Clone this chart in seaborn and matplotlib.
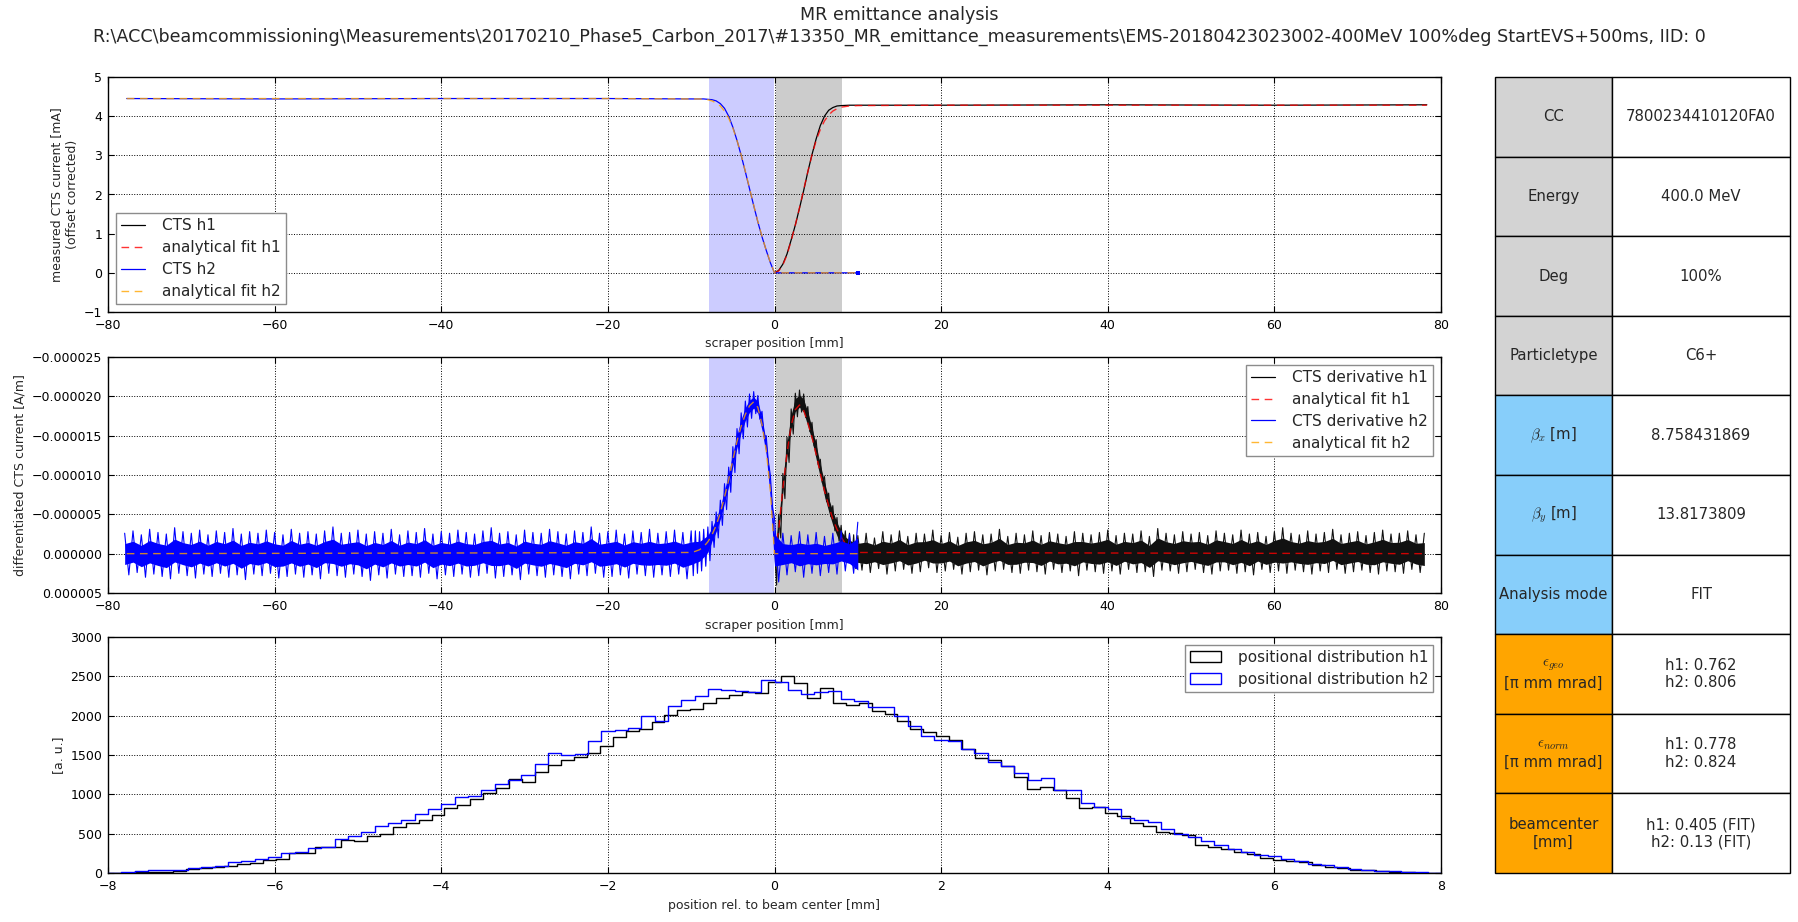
import numpy as np
import pandas as pd
import matplotlib
matplotlib.use("Agg")
import matplotlib.pyplot as plt
import seaborn as sns
from matplotlib.lines import Line2D
from matplotlib.patches import Patch
from matplotlib.ticker import FuncFormatter, MultipleLocator

# ---------------------------------------------------------------- data
# measured / fitted CTS current [mA] against scraper position [mm]
h1_cts_x = [0, 0.5, 1, 1.5, 2, 2.5, 3, 3.5, 4, 4.5, 5, 5.5, 6, 6.5, 7, 7.5, 8,
            9, 10, 20, 40, 60, 78.3]
h1_cts_y = [0.0, 0.06, 0.22, 0.48, 0.84, 1.22, 1.65, 2.10, 2.58, 3.02, 3.42, 3.76,
            4.00, 4.15, 4.22, 4.26, 4.27, 4.28, 4.28, 4.28, 4.29, 4.28, 4.29]
h1_fit_y = [0.0, 0.05, 0.20, 0.46, 0.82, 1.22, 1.66, 2.12, 2.58, 3.01, 3.38, 3.66,
            3.88, 4.03, 4.13, 4.19, 4.23, 4.26, 4.27, 4.28, 4.28, 4.28, 4.28]

h2_cts_x = [-77.75, -60, -40, -20, -10, -9, -8.5, -8, -7.5, -7, -6.5, -6, -5.5,
            -5, -4.5, -4, -3.5, -3, -2.5, -2, -1.5, -1, -0.5, 0, 5, 10]
h2_cts_y = [4.45, 4.44, 4.45, 4.45, 4.44, 4.44, 4.44, 4.43, 4.42, 4.39, 4.32, 4.20,
            4.00, 3.72, 3.38, 3.00, 2.58, 2.15, 1.72, 1.30, 0.92, 0.58, 0.26, 0.0,
            0.0, 0.0]
h2_fit_y = [4.45, 4.45, 4.45, 4.45, 4.44, 4.44, 4.43, 4.42, 4.39, 4.34, 4.26, 4.13,
            3.95, 3.70, 3.38, 3.01, 2.59, 2.16, 1.73, 1.31, 0.93, 0.58, 0.27, 0.0,
            0.0, 0.0]

# differentiated CTS current, in units of 1e-6 A/m
h1_dfit_x = [0, 0.5, 1, 1.5, 2, 2.5, 3, 3.5, 4, 4.5, 5, 5.5, 6, 6.5, 7, 7.5, 8,
             8.5, 9, 9.5, 10, 78.3]
h1_dfit_y = [0, -3.0, -8.3, -12.8, -16.3, -18.3, -18.9, -18.2, -16.6, -14.8, -12.6,
             -10.2, -8.0, -6.1, -4.4, -3.1, -2.1, -1.3, -0.8, -0.4, -0.15, 0.0]

h2_dfit_x = [-77.75, -10, -9.5, -9, -8.5, -8, -7.5, -7, -6.5, -6, -5.5, -5, -4.5,
             -4, -3.5, -3, -2.5, -2, -1.5, -1, -0.5, 0, 10]
h2_dfit_y = [0, -0.15, -0.3, -0.5, -0.9, -1.5, -2.4, -3.6, -5.2, -7.2, -9.4, -11.9,
             -14.3, -16.2, -17.7, -18.8, -19.3, -18.6, -16.4, -13.2, -8.0, 0, 0]

# measured derivative h1: lower / upper extent of the noisy trace
h1_dpeak_x = [0, 0.5, 1, 1.5, 2, 2.5, 3, 3.5, 4, 4.5, 5, 5.5, 6, 6.5, 7, 7.5, 8,
              8.5, 9, 9.5]
h1_dpeak_lo = [-1.5, -5.0, -10.2, -14.8, -18.4, -20.4, -20.8, -20.3, -18.7, -16.7,
               -14.5, -12.0, -9.8, -7.7, -6.1, -4.6, -3.6, -2.9, -2.6, -2.4]
h1_dpeak_hi = [4.0, -2.0, -7.0, -11.6, -15.2, -17.4, -18.0, -17.3, -15.5, -13.7,
               -11.3, -9.0, -6.6, -4.7, -2.9, -1.6, -0.4, 0.5, 1.3, 1.9]
h1_dnoise_x = list(range(10, 79))
h1_dnoise_lo = [-2.3, -2.6, -2.0, -2.8, -2.4, -2.9, -2.2, -2.6, -2.5, -3.0,
                -2.3, -2.7, -2.1, -2.6, -2.8, -2.4, -2.5, -3.1, -2.2, -2.6,
                -2.4, -2.9, -2.3, -2.7, -2.5, -2.2, -2.8, -2.6, -2.4, -2.7,
                -3.0, -2.3, -2.6, -2.5, -2.9, -2.2, -3.2, -2.6, -2.4, -2.8,
                -2.5, -2.7, -2.3, -2.9, -2.6, -2.4, -3.0, -2.5, -2.7, -2.2,
                -2.8, -3.3, -2.6, -2.4, -2.9, -2.5, -2.7, -3.1, -2.4, -2.6,
                -2.8, -2.3, -2.7, -3.0, -2.5, -2.6, -2.9, -2.4, -2.6]
h1_dnoise_hi = [2.1, 2.4, 1.9, 2.6, 2.2, 2.0, 2.5, 2.3, 1.8, 2.4,
                2.2, 2.0, 2.6, 2.3, 2.1, 2.7, 2.2, 2.0, 2.4, 2.5,
                2.1, 2.3, 2.6, 2.0, 2.4, 2.2, 2.8, 2.1, 2.3, 2.5,
                2.2, 2.6, 2.0, 2.4, 2.3, 2.9, 2.1, 2.2, 2.5, 2.3,
                2.0, 2.4, 2.6, 2.2, 2.1, 2.5, 2.3, 2.7, 2.0, 2.4,
                2.2, 2.5, 2.1, 2.3, 2.6, 2.2, 2.4, 2.0, 2.5, 2.3,
                2.1, 2.4, 2.6, 2.2, 2.3, 2.5, 2.0, 2.4, 2.7]

# measured derivative h2: lower / upper extent of the noisy trace
h2_dnoise_x = list(range(-78, -9))
h2_dnoise_lo = [-2.6, -2.9, -2.4, -3.1, -2.7, -2.5, -3.3, -2.8, -2.6, -3.0,
                -2.4, -2.9, -2.7, -3.2, -2.5, -2.8, -2.6, -3.0, -2.7, -2.4,
                -3.1, -2.6, -2.8, -2.5, -2.9, -3.4, -2.6, -2.7, -3.0, -2.5,
                -2.8, -2.6, -3.1, -2.4, -2.9, -2.7, -3.2, -2.5, -2.8, -2.6,
                -3.0, -2.7, -2.5, -2.9, -3.3, -2.6, -2.8, -2.4, -3.0, -2.7,
                -2.6, -3.1, -2.8, -2.5, -2.9, -2.7, -3.4, -2.6, -2.8, -3.0,
                -2.5, -2.9, -2.7, -3.1, -2.6, -2.8, -3.0, -2.7, -2.9]
h2_dnoise_hi = [2.7, 2.4, 3.0, 2.6, 2.9, 3.2, 2.5, 2.8, 3.1, 2.6,
                2.9, 2.5, 3.0, 2.7, 3.3, 2.6, 2.8, 2.5, 3.1, 2.9,
                2.6, 3.0, 2.7, 3.2, 2.5, 2.8, 3.0, 2.6, 2.9, 3.4,
                2.7, 3.1, 2.6, 2.9, 2.8, 3.0, 2.5, 3.2, 2.7, 2.9,
                2.6, 3.0, 2.8, 2.5, 3.1, 2.9, 2.7, 3.3, 2.6, 2.8,
                3.0, 2.7, 2.9, 3.2, 2.6, 2.8, 2.5, 3.0, 2.9, 2.7,
                3.1, 2.6, 2.8, 3.0, 2.7, 2.9, 2.6, 3.2, 2.8]
h2_dpeak_x = [-9.5, -9, -8.5, -8, -7.5, -7, -6.5, -6, -5.5, -5, -4.5, -4, -3.5,
              -3, -2.5, -2, -1.5, -1, -0.5]
h2_dpeak_lo = [-2.9, -2.8, -3.1, -3.4, -4.1, -5.3, -6.8, -8.9, -11.0, -13.6, -15.9,
               -17.9, -19.4, -20.3, -20.6, -20.1, -18.1, -15.0, -10.0]
h2_dpeak_hi = [2.5, 2.2, 1.6, 0.9, -0.8, -2.0, -3.6, -5.6, -7.8, -10.3, -12.7,
               -14.6, -16.1, -17.2, -17.8, -17.1, -14.9, -11.8, -6.0]
h2_dtail_x = [0, 1, 2, 3, 4, 5, 6, 7, 8, 9, 10]
h2_dtail_lo = [-4.5, -2.6, -2.3, -2.8, -2.4, -2.7, -2.2, -2.6, -2.9, -2.5, -4.0]
h2_dtail_hi = [3.6, 2.7, 2.3, 3.0, 2.5, 2.8, 2.4, 2.6, 2.2, 2.5, 4.1]

# positional distributions [a. u.]
h1_counts = [2, 4, 8, 13, 14, 21, 55, 68, 76, 90,
             110, 130, 165, 175, 260, 250, 330, 330, 420, 412,
             470, 500, 580, 632, 670, 735, 823, 865, 946, 1014,
             1086, 1196, 1163, 1285, 1370, 1440, 1470, 1525, 1610, 1735,
             1805, 1835, 1920, 2005, 2070, 2090, 2155, 2230, 2260, 2305,
             2285, 2425, 2500, 2415, 2225, 2350, 2160, 2135, 2165, 2065,
             2020, 1935, 1825, 1790, 1740, 1690, 1575, 1465, 1435, 1360,
             1220, 1070, 1095, 1060, 950, 827, 835, 768, 725, 632,
             598, 522, 513, 480, 356, 327, 305, 263, 242, 195,
             165, 153, 140, 98, 72, 59, 42, 34, 25, 17,
             13, 6, 2]
h2_counts = [3, 10, 22, 38, 35, 38, 58, 75, 95, 135,
             150, 178, 200, 250, 270, 320, 325, 430, 470, 525,
             600, 630, 680, 745, 810, 880, 960, 980, 1055, 1135,
             1185, 1240, 1390, 1520, 1500, 1515, 1675, 1810, 1820, 1840,
             2000, 1930, 2125, 2200, 2255, 2345, 2330, 2310, 2305, 2455,
             2425, 2325, 2280, 2305, 2310, 2210, 2190, 2115, 2110, 2000,
             1870, 1745, 1695, 1680, 1575, 1530, 1410, 1360, 1275, 1185,
             1210, 1055, 1050, 895, 845, 810, 705, 675, 650, 560,
             495, 455, 410, 350, 305, 270, 225, 210, 175, 150,
             115, 98, 72, 55, 42, 30, 20, 17, 10, 5]

# scraper regions used for the fits [mm]
h2_region = [-7.9, -0.06]
h1_region = [0.24, 8.08]

# parameter table
table_keys = ["CC", "Energy", "Deg", "Particletype", r"$\beta_x$ [m]",
              r"$\beta_y$ [m]", "Analysis mode",
              "$\\epsilon_{geo}$\n[\u03c0 mm mrad]",
              "$\\epsilon_{norm}$\n[\u03c0 mm mrad]", "beamcenter\n[mm]"]
table_values = ["7800234410120FA0", "400.0 MeV", "100%", "C6+", "8.758431869",
                "13.8173809", "FIT", "h1: 0.762\nh2: 0.806",
                "h1: 0.778\nh2: 0.824", "h1: 0.405 (FIT)\nh2: 0.13 (FIT)"]
table_key_colors = ["lightgray"] * 4 + ["lightskyblue"] * 3 + ["orange"] * 3

title = ("MR emittance analysis\n"
         r"R:\ACC\beamcommissioning\Measurements\20170210_Phase5_Carbon_2017"
         r"\#13350_MR_emittance_measurements\EMS-20180423023002-400MeV 100%deg "
         "StartEVS+500ms, IID: 0")

# ---------------------------------------------------------------- style
sns.set_style("white")
plt.rcParams.update({
    "font.family": ["DejaVu Sans"],
    "font.size": 9,
    "axes.edgecolor": "black",
    "axes.linewidth": 1.0,
    "axes.grid": True,
    "grid.color": "black",
    "grid.linestyle": ":",
    "grid.linewidth": 0.7,
    "xtick.direction": "in",
    "ytick.direction": "in",
    "xtick.top": True,
    "ytick.right": True,
    "xtick.bottom": True,
    "ytick.left": True,
    "xtick.major.size": 4,
    "ytick.major.size": 4,
    "xtick.major.pad": 5,
    "ytick.major.pad": 4,
    "xtick.labelsize": 9,
    "ytick.labelsize": 9,
    "axes.labelsize": 9,
    "xtick.color": "black",
    "ytick.color": "black",
    "mathtext.fontset": "cm",
    "axes.unicode_minus": True,
    "legend.fontsize": 11,
})

DASH = (0, (5.5, 4.0))
MINUS = "\u2212"


def minus_fmt(fmt):
    def f(v, pos):
        if abs(v) < 1e-12:
            v = 0.0
        return (fmt % v).replace("-", MINUS)
    return FuncFormatter(f)


fig = plt.figure(figsize=(17.98, 9.22), dpi=100)
W, H = 1798.0, 922.0


def px_axes(x0, y0, x1, y1):
    return fig.add_axes([x0 / W, 1 - y1 / H, (x1 - x0) / W, (y1 - y0) / H])


ax1 = px_axes(108, 77, 1441, 312)
ax2 = px_axes(108, 357, 1441, 593)
ax3 = px_axes(108, 637, 1441, 873)
axt = px_axes(1495, 77, 1790, 873)

# ---------------------------------------------------------------- top panel
for ax in (ax1, ax2):
    ax.axvspan(*h2_region, color="blue", alpha=0.2, lw=0, zorder=0)
    ax.axvspan(*h1_region, color="black", alpha=0.2, lw=0, zorder=0)

sns.lineplot(x=h1_cts_x, y=h1_cts_y, color="black", lw=0.9, ax=ax1, zorder=3)
sns.lineplot(x=h1_cts_x, y=h1_fit_y, color="red", lw=1.0, alpha=0.8,
             linestyle=DASH, ax=ax1, zorder=4)
sns.lineplot(x=h2_cts_x, y=h2_cts_y, color="blue", lw=0.9, ax=ax1, zorder=5,
             marker="s", markersize=2.5, markeredgewidth=0,
             markevery=[len(h2_cts_x) - 1])
sns.lineplot(x=h2_cts_x, y=h2_fit_y, color="orange", lw=1.0, alpha=0.8,
             linestyle=DASH, ax=ax1, zorder=6)

ax1.set_xlim(-80, 80)
ax1.set_ylim(-1, 5)
ax1.xaxis.set_major_locator(MultipleLocator(20))
ax1.yaxis.set_major_locator(MultipleLocator(1))
ax1.xaxis.set_major_formatter(minus_fmt("%d"))
ax1.yaxis.set_major_formatter(minus_fmt("%d"))
ax1.set_xlabel("scraper position [mm]")
ax1.set_ylabel("measured CTS current [mA]\n(offset corrected)")


def line_handles(labels):
    return [Line2D([], [], color="black", lw=0.9),
            Line2D([], [], color="red", lw=1.0, alpha=0.8, linestyle=DASH),
            Line2D([], [], color="blue", lw=0.9),
            Line2D([], [], color="orange", lw=1.0, alpha=0.8, linestyle=DASH)], labels


def style_legend(leg):
    fr = leg.get_frame()
    fr.set_edgecolor("0.55")
    fr.set_linewidth(1.0)
    fr.set_alpha(1)
    return leg


LEG = dict(fancybox=False, handletextpad=1.1, labelspacing=0.45, borderpad=0.35,
           borderaxespad=0.5)

h, l = line_handles(["CTS h1", "analytical fit h1", "CTS h2", "analytical fit h2"])
style_legend(ax1.legend(h, l, loc="lower left", handlelength=1.6, **LEG))

# ---------------------------------------------------------------- middle panel
SCALE = 1e-6


def noisy_trace(ax, x, lo, hi, color, z, core=0.55):
    """Noisy trace drawn from its per-sample extent: dense core plus a trace
    that swings between the lowest and highest excursion of each sample."""
    x = np.asarray(x, float)
    lo = np.asarray(lo, float) * SCALE
    hi = np.asarray(hi, float) * SCALE
    step = np.diff(x, append=x[-1] + (x[-1] - x[-2]))
    mid = 0.5 * (lo + hi)
    half = 0.5 * (hi - lo)
    ax.fill_between(x, mid - core * half, mid + core * half, color=color,
                    lw=0, zorder=z)
    xs = np.column_stack([x, x + 0.5 * step]).ravel()[:-1]
    ys = np.column_stack([lo, hi]).ravel()[:-1]
    ax.plot(xs, ys, color=color, lw=0.8, zorder=z)


noisy_trace(ax2, h1_dpeak_x + h1_dnoise_x, h1_dpeak_lo + h1_dnoise_lo,
            h1_dpeak_hi + h1_dnoise_hi, "#111111", 3)
sns.lineplot(x=h1_dfit_x, y=np.asarray(h1_dfit_y) * SCALE, color="red", lw=1.0,
             alpha=0.8, linestyle=DASH, ax=ax2, zorder=4)
noisy_trace(ax2, h2_dnoise_x + h2_dpeak_x + h2_dtail_x,
            h2_dnoise_lo + h2_dpeak_lo + h2_dtail_lo,
            h2_dnoise_hi + h2_dpeak_hi + h2_dtail_hi, "blue", 5, core=0.5)
sns.lineplot(x=h2_dfit_x, y=np.asarray(h2_dfit_y) * SCALE, color="orange", lw=1.0,
             alpha=0.8, linestyle=DASH, ax=ax2, zorder=6)

ax2.set_xlim(-80, 80)
ax2.set_ylim(0.000005, -0.000025)
ax2.xaxis.set_major_locator(MultipleLocator(20))
ax2.yaxis.set_major_locator(MultipleLocator(0.000005))
ax2.xaxis.set_major_formatter(minus_fmt("%d"))
ax2.yaxis.set_major_formatter(minus_fmt("%.6f"))
ax2.set_xlabel("scraper position [mm]")
ax2.set_ylabel("differentiated CTS current [A/m]")
h, l = line_handles(["CTS derivative h1", "analytical fit h1",
                     "CTS derivative h2", "analytical fit h2"])
style_legend(ax2.legend(h, l, loc="upper right", handlelength=1.6, **LEG))

# ---------------------------------------------------------------- bottom panel
h1_edges = np.linspace(-8, 8, len(h1_counts) + 1)
h2_edges = np.linspace(-8, 8, len(h2_counts) + 1)
h1_df = pd.DataFrame({"pos": 0.5 * (h1_edges[:-1] + h1_edges[1:]),
                      "count": h1_counts})
h2_df = pd.DataFrame({"pos": 0.5 * (h2_edges[:-1] + h2_edges[1:]),
                      "count": h2_counts})

sns.histplot(data=h1_df, x="pos", weights="count", bins=list(h1_edges),
             element="step", fill=False, color="black", lw=1.0, ax=ax3, zorder=3)
sns.histplot(data=h2_df, x="pos", weights="count", bins=list(h2_edges),
             element="step", fill=False, color="blue", lw=1.0, ax=ax3, zorder=4)
ax3.set_xlim(-8, 8)
ax3.set_ylim(0, 3000)
ax3.xaxis.set_major_locator(MultipleLocator(2))
ax3.yaxis.set_major_locator(MultipleLocator(500))
ax3.xaxis.set_major_formatter(minus_fmt("%d"))
ax3.yaxis.set_major_formatter(minus_fmt("%d"))
ax3.set_xlabel("position rel. to beam center [mm]")
ax3.set_ylabel("[a. u.]")
ax3.grid(True)
style_legend(ax3.legend([Patch(facecolor="white", edgecolor="black", lw=1.0),
                         Patch(facecolor="white", edgecolor="blue", lw=1.0)],
                        ["positional distribution h1", "positional distribution h2"],
                        loc="upper right", handlelength=2.0, **LEG))

for ax in (ax1, ax2, ax3):
    ax.tick_params(which="both", top=True, right=True, direction="in", length=4,
                   width=0.8, color="black")
    for s in ax.spines.values():
        s.set_visible(True)
        s.set_color("black")
        s.set_linewidth(1.0)

# ---------------------------------------------------------------- table
axt.axis("off")
cell_text = [[k, v] for k, v in zip(table_keys, table_values)]
cell_colors = [[c, "white"] for c in table_key_colors]
tbl = axt.table(cellText=cell_text, cellColours=cell_colors, cellLoc="center",
                colWidths=[117 / 295, 178 / 295], bbox=[0, 0, 1, 1])
tbl.auto_set_font_size(False)
tbl.set_fontsize(10.7)
for cell in tbl.get_celld().values():
    cell.set_edgecolor("black")
    cell.set_linewidth(1.0)

fig.text(0.5, 1 - 6 / H, title, ha="center", va="top", fontsize=12.65,
         linespacing=1.25)

fig.savefig("out.png", dpi=100, facecolor="white")
